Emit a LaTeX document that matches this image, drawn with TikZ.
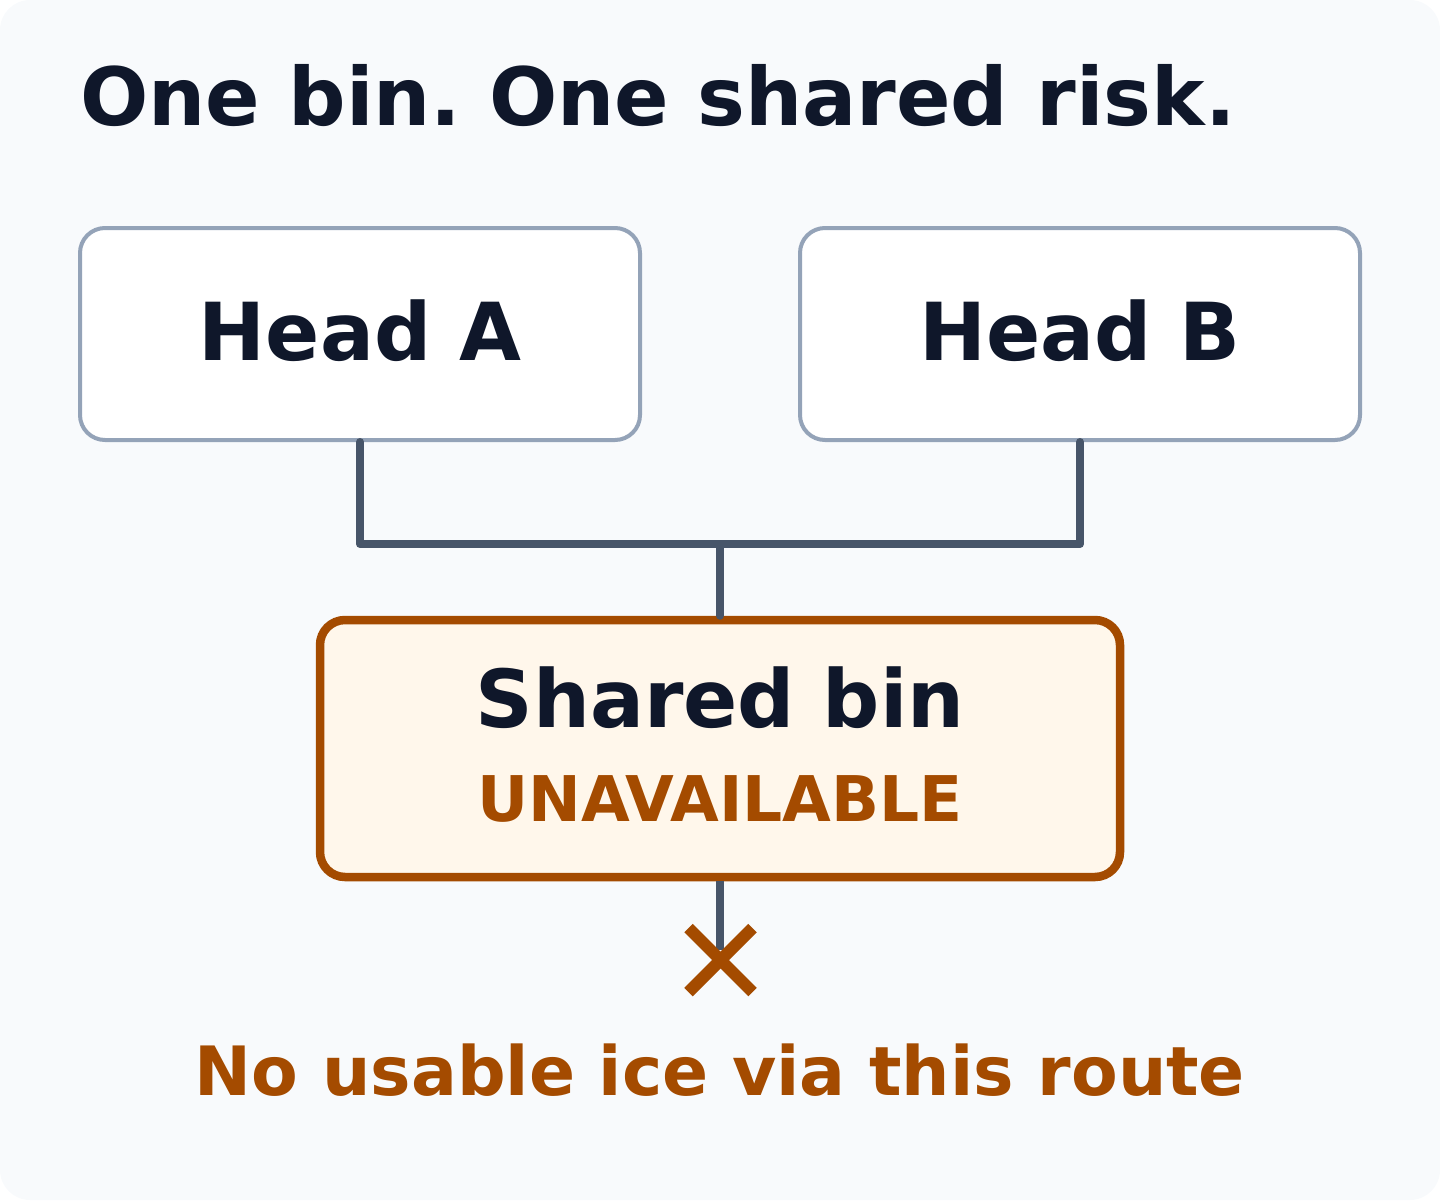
\documentclass[tikz,border=0pt]{standalone}
\usepackage{fontspec}
\setmainfont{DejaVu Sans}
\usepackage{tikz}
\usetikzlibrary{positioning}
\frenchspacing

\definecolor{bgpage}{HTML}{F8FAFC}
\definecolor{ink}{HTML}{0F172A}
\definecolor{headline}{HTML}{94A3B8}
\definecolor{wirecol}{HTML}{475569}
\definecolor{warn}{RGB}{164,75,0}
\definecolor{warnfill}{HTML}{FFF7EB}

\tikzset{
  headbox/.style={draw=headline, line width=2pt, fill=white, rounded corners=12.5pt,
    minimum width=280pt, minimum height=106pt, inner sep=0pt},
  binbox/.style={draw=warn, line width=4.25pt, fill=warnfill, rounded corners=12.5pt,
    minimum width=400pt, minimum height=128.5pt, inner sep=0pt},
  wire/.style={draw=wirecol, line width=4pt, line cap=round, line join=round},
  crossmark/.style={draw=warn, line width=6pt, line cap=butt},
  txt/.style={inner sep=0pt, anchor=base},
  big/.style={font=\fontsize{40}{48}\selectfont\bfseries}
}

\begin{document}
\begin{tikzpicture}[x=0.5pt, y=-0.5pt]
  \useasboundingbox (0,0) rectangle (1440,1200);
  \fill[bgpage, rounded corners=15pt] (0,0) rectangle (1440,1200);

  % title
  \node[txt, anchor=base west, text=ink, font=\fontsize{40.2}{48}\selectfont\bfseries] (title) at (80,125) {One bin. One shared risk.};

  % the two heads
  \node[headbox] (headA) at (360,334) {};
  \node[txt, text=ink, big] (nameA) at (360,360) {Head A};
  \node[headbox] (headB) at (1080,334) {};
  \node[txt, text=ink, big] (nameB) at (1080,360) {Head B};

  % shared bin
  \node[binbox] (bin) at (720,748.5) {};
  \node[txt, text=ink, big] (binname) at (720,727) {Shared bin};
  \node[txt, text=warn, font=\fontsize{31.5}{38}\selectfont\bfseries] (binstate) at (720,821) {UNAVAILABLE};

  % connectors
  \coordinate (join) at (720,544);
  \draw[wire] (headA.south) |- (join) -| (headB.south);
  \draw[wire] (join) -- (bin.north);

  \coordinate (stop) at (720,950);
  \draw[wire, line cap=butt] (bin.south) -- (stop);

  % the cross
  \coordinate (xmark) at (720.5,960);
  \draw[crossmark] (xmark) ++(-32,-32) -- ++(64,64);
  \draw[crossmark] (xmark) ++(32,-32) -- ++(-64,64);

  \node[txt, text=warn, font=\fontsize{34}{40}\selectfont\bfseries] (verdict) at (720,1095) {No usable ice via this route};
\end{tikzpicture}
\end{document}
